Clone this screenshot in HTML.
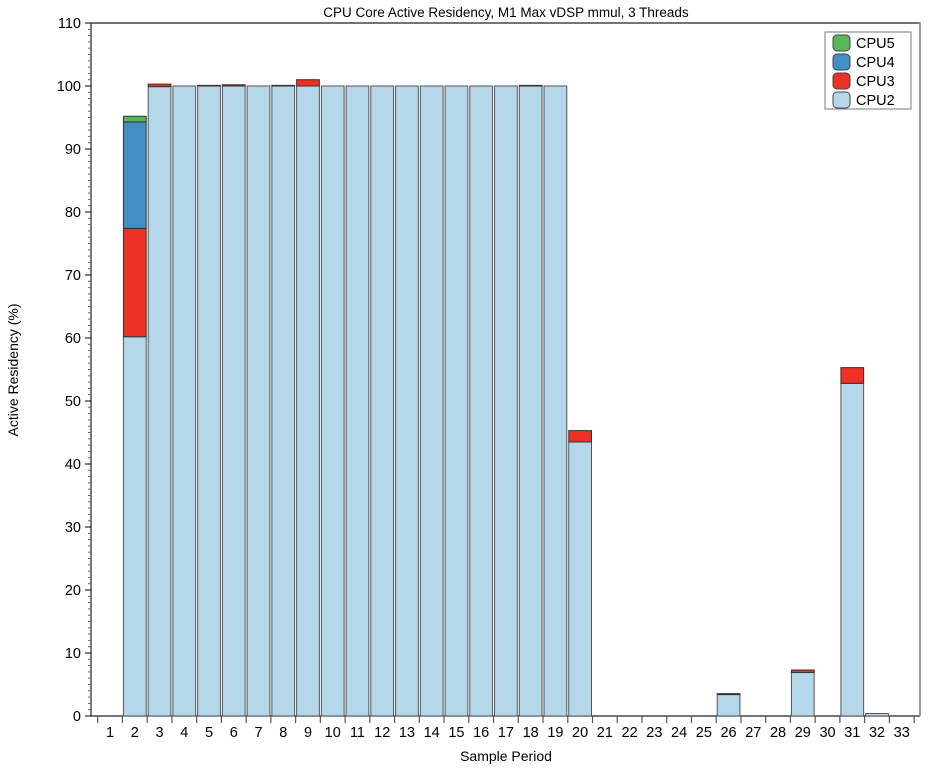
<!DOCTYPE html>
<html><head><meta charset="utf-8"><style>
body{margin:0;background:#fff;}
svg text{font-family:"Liberation Sans",Arial,sans-serif;fill:#000;}
</style></head><body>
<svg id="chart" width="940" height="769" xmlns="http://www.w3.org/2000/svg"></svg>
<script>
const categories=[1,2,3,4,5,6,7,8,9,10,11,12,13,14,15,16,17,18,19,20,21,22,23,24,25,26,27,28,29,30,31,32,33];
const cpu2=[0,60.2,99.9,100,100,100,100,100,100,100,100,100,100,100,100,100,100,100,100,43.5,0,0,0,0,0,3.4,0,0,6.9,0,52.8,0.4,0];
const cpu3=[0,17.2,0.4,0,0.1,0.2,0,0.1,1.0,0,0,0,0,0,0,0,0,0.1,0,1.8,0,0,0,0,0,0.15,0,0,0.4,0,2.5,0,0];
const cpu4=[0,16.9,0,0,0,0,0,0,0,0,0,0,0,0,0,0,0,0,0,0,0,0,0,0,0,0,0,0,0,0,0,0,0];
const cpu5=[0,0.9,0,0,0,0,0,0,0,0,0,0,0,0,0,0,0,0,0,0,0,0,0,0,0,0,0,0,0,0,0,0,0];
const yTicks=[0,10,20,30,40,50,60,70,80,90,100,110];
const seriesNames=["CPU2","CPU3","CPU4","CPU5"];
const seriesColors=["#b4d7e9","#ee3124","#418fc6","#58b65b"];

const svg=document.getElementById('chart');
const NS="http://www.w3.org/2000/svg";
const X0=97.7, STEP=24.74, Y0=716, PPU=6.3;
function xs(i){return X0+i*STEP;}
function ys(v){return Y0-v*PPU;}
function mk(tag,attrs,parent){const e=document.createElementNS(NS,tag);for(const k in attrs)e.setAttribute(k,attrs[k]);(parent||svg).appendChild(e);return e;}

// frame
const frame=mk('path',{d:`M91,${ys(110)} H920 V${Y0} M91,${ys(110)} V${Y0} H920`,fill:'none',stroke:'#000','stroke-width':1.2});


frame.setAttribute('stroke','#222');
mk('line',{x1:920,y1:ys(110),x2:920,y2:Y0,stroke:'#999','stroke-width':2});

// y ticks
for(let v=0;v<=110;v++){
  const major=v%10===0;
  mk('line',{x1:major?85:88,x2:91,y1:ys(v),y2:ys(v),stroke:major?'#000':'#666','stroke-width':1});
}
yTicks.forEach(v=>{
  const t=mk('text',{x:81,y:ys(v)+5,'text-anchor':'end','font-size':14.5});
  t.textContent=v;
  
  
});
// x ticks
for(let i=0;i<=categories.length;i++){
  mk('line',{x1:xs(i),x2:xs(i),y1:Y0,y2:Y0+7,stroke:'#555','stroke-width':1.2});
}
categories.forEach((c,i)=>{
  const t=mk('text',{x:xs(i)+STEP/2,y:Y0+21,'text-anchor':'middle','font-size':14.5});
  t.textContent=c;
  
  
});

// bars
const series=[cpu2,cpu3,cpu4,cpu5];
categories.forEach((c,i)=>{
  let base=0;
  series.forEach((s,k)=>{
    const v=s[i];
    if(v<=0)return;
    const r=mk('rect',{x:xs(i)+1,y:ys(base+v),width:STEP-2,height:v*PPU,fill:seriesColors[k],stroke:k===0?'#555':'#333','stroke-width':1});
    
    
    base+=v;
  });
});

// title & axis labels
let t=mk('text',{x:506,y:17,'text-anchor':'middle','font-size':13.5});
t.textContent='CPU Core Active Residency, M1 Max vDSP mmul, 3 Threads';


t=mk('text',{x:506,y:761,'text-anchor':'middle','font-size':14});
t.textContent='Sample Period';


t=mk('text',{x:0,y:0,'text-anchor':'middle','font-size':14,transform:'translate(18,370) rotate(-90)'});
t.textContent='Active Residency (%)';



// legend
const lg=mk('g',{});


mk('rect',{x:825,y:32,width:86,height:77,fill:'#fff',stroke:'#777','stroke-width':1},lg);
[3,2,1,0].forEach((k,row)=>{
  const cy=43+row*19;
  const sw=mk('rect',{x:833,y:cy-8,width:17,height:16,rx:4,fill:seriesColors[k],stroke:'#444','stroke-width':1},lg);
  
  
  const lt=mk('text',{x:856,y:cy+5,'font-size':14.5},lg);
  lt.textContent=seriesNames[k];
  
  
});
</script>
</body></html>
